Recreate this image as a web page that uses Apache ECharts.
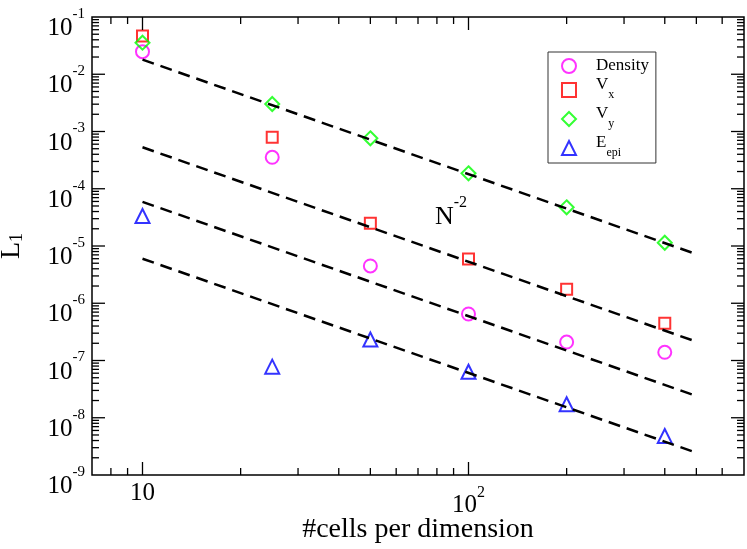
<!DOCTYPE html>
<html lang="en">
<head>
<meta charset="UTF-8">
<title>L1 convergence</title>
<script src="https://cdn.jsdelivr.net/npm/echarts@6/dist/echarts.min.js"></script>
<style>
    html, body {margin: 0; padding: 0; background: #fff;}
    #main {width: 747px; height: 549px;}
</style>
</head>
<body>
<div id="main"></div>
<script>
    // values
    var cells = [10, 25, 50, 100, 200, 400];
    var density = [2.48e-2, 3.54e-4, 4.48e-6, 6.49e-7, 2.10e-7, 1.39e-7];
    var vx = [4.66e-2, 7.92e-4, 2.49e-5, 5.93e-6, 1.75e-6, 4.47e-7];
    var vy = [3.56e-2, 3.02e-3, 7.60e-4, 1.86e-4, 4.74e-5, 1.14e-5];
    var eEpi = [3.34e-5, 7.80e-8, 2.33e-7, 6.37e-8, 1.72e-8, 4.80e-9];

    // N^-2 guide lines, value at each end
    var guideX = [10, 500];
    var guideStart = [1.8e-2, 5.3e-4, 5.9e-5, 6.0e-6];
    var guideEnd = [7.2e-6, 2.13e-7, 2.4e-8, 2.45e-9];

    var xMin = 7, xMax = 700, yMin = 1e-9, yMax = 1e-1;
    var serif = 'Liberation Serif';

    // log ticks 1..9 per decade, strictly inside the range
    function decadeTicks(lo, hi) {
        var out = [];
        for (var e = Math.floor(Math.log10(lo)); e <= Math.ceil(Math.log10(hi)); e++) {
            for (var m = 1; m <= 9; m++) {
                var v = m * Math.pow(10, e);
                if (v > lo * 1.0001 && v < hi * 0.9999) out.push({v: v, major: m === 1 ? 1 : 0});
            }
        }
        return out;
    }
    var xTicks = decadeTicks(xMin, xMax);
    var yTicks = decadeTicks(yMin, yMax);

    function expOf(v) {
        var e = Math.log10(v);
        return Math.abs(e - Math.round(e)) < 1e-6 ? Math.round(e) : null;
    }

    function pairs(ys) {
        return cells.map(function (x, i) { return [x, ys[i]]; });
    }

    var tickStyle = {stroke: '#000', lineWidth: 1.3};

    function xTickItem(params, api) {
        var px = api.coord([api.value(0), yMin])[0];
        var cs = params.coordSys;
        var len = api.value(2) ? 13 : 7;
        var b = cs.y + cs.height;
        return {type: 'group', children: [
            {type: 'line', shape: {x1: px, y1: b, x2: px, y2: b - len}, style: tickStyle},
            {type: 'line', shape: {x1: px, y1: cs.y, x2: px, y2: cs.y + len}, style: tickStyle}
        ]};
    }

    function yTickItem(params, api) {
        var py = api.coord([xMin, api.value(1)])[1];
        var cs = params.coordSys;
        var len = api.value(2) ? 13 : 7;
        var r = cs.x + cs.width;
        return {type: 'group', children: [
            {type: 'line', shape: {x1: cs.x, y1: py, x2: cs.x + len, y2: py}, style: tickStyle},
            {type: 'line', shape: {x1: r, y1: py, x2: r - len, y2: py}, style: tickStyle}
        ]};
    }

    var markerDefs = [
        {name: 'Density', data: density, symbol: 'circle', size: 13, color: '#ff00ff'},
        {name: 'Vx', data: vx, symbol: 'rect', size: 11, color: '#ff0000'},
        {name: 'Vy', data: vy, symbol: 'diamond', size: 14, color: '#00ff00'},
        {name: 'Eepi', data: eEpi, symbol: 'triangle', size: 14, color: '#0000ff'}
    ];
    var legendText = {
        'Density': '{d|Density}',
        'Vx': '{m|V}{s|x}',
        'Vy': '{m|V}{s|y}',
        'Eepi': '{m|E}{s|epi}'
    };

    var series = [];
    for (var g = 0; g < guideStart.length; g++) {
        series.push({
            type: 'line',
            silent: true,
            showSymbol: false,
            data: [[guideX[0], guideStart[g]], [guideX[1], guideEnd[g]]],
            lineStyle: {color: '#000', width: 2.5, type: [12, 7]},
            z: 3
        });
    }
    markerDefs.forEach(function (d) {
        series.push({
            name: d.name,
            type: 'scatter',
            symbol: d.symbol,
            symbolSize: d.size,
            data: pairs(d.data),
            itemStyle: {color: 'transparent', borderColor: d.color, borderWidth: 2},
            z: 2
        });
    });
    series.push({
        type: 'custom',
        silent: true,
        renderItem: xTickItem,
        data: xTicks.map(function (t) { return [t.v, yMin, t.major]; }),
        z: 5
    });
    series.push({
        type: 'custom',
        silent: true,
        renderItem: yTickItem,
        data: yTicks.map(function (t) { return [xMin, t.v, t.major]; }),
        z: 5
    });

    var myChart = echarts.init(document.getElementById('main'));
    var option = {
        animation: false,
        backgroundColor: '#fff',
        grid: {
            left: 92, right: 3, top: 17, bottom: 74,
            outerBoundsMode: 'none',
            show: true, borderColor: '#000', borderWidth: 1.5,
            backgroundColor: 'transparent'
        },
        legend: {
            data: ['Density', 'Vx', 'Vy', 'Eepi'],
            orient: 'vertical',
            left: 548, top: 52,
            itemWidth: 14, itemHeight: 14, itemGap: 2,
            padding: [5.5, 7, 1.5, 13],
            borderColor: '#333', borderWidth: 1,
            selectedMode: false,
            formatter: function (name) { return legendText[name]; },
            textStyle: {
                fontFamily: serif, color: '#000',
                rich: {
                    d: {fontFamily: serif, fontSize: 17, lineHeight: 27, padding: [0, 0, 0, 15], color: '#000'},
                    m: {fontFamily: serif, fontSize: 17, lineHeight: 27, padding: [0, 0, 0, 15], verticalAlign: 'top', color: '#000'},
                    s: {fontFamily: serif, fontSize: 12, lineHeight: 12, padding: [0, 0, 2.5, 0], verticalAlign: 'bottom', color: '#000'}
                }
            }
        },
        graphic: [{
            type: 'text',
            left: 435, top: 195,
            style: {
                text: '{n|N}{s|-2}',
                fill: '#000',
                rich: {
                    n: {fontFamily: serif, fontSize: 26, lineHeight: 35, padding: [9, 0, 0, 0], verticalAlign: 'top'},
                    s: {fontFamily: serif, fontSize: 16, lineHeight: 16, verticalAlign: 'top'}
                }
            }
        }],
        xAxis: {
            type: 'log', logBase: 10, min: xMin, max: xMax,
            name: '#cells per dimension',
            nameLocation: 'middle', nameGap: 41,
            nameMoveOverlap: false,
            nameTextStyle: {fontFamily: serif, fontSize: 28, color: '#000'},
            axisLine: {show: false},
            axisTick: {show: false},
            splitLine: {show: false},
            minorTick: {show: false},
            axisLabel: {
                margin: 6,
                showMinLabel: true, showMaxLabel: true,
                formatter: function (v) {
                    var e = expOf(v);
                    if (e === null) return '';
                    return e === 1 ? '{p|10}' : '{b|10}{s|' + e + '}';
                },
                rich: {
                    p: {fontFamily: serif, fontSize: 25, lineHeight: 25, color: '#000'},
                    b: {fontFamily: serif, fontSize: 25, lineHeight: 25, padding: [11.5, 0, 0, 0], verticalAlign: 'top', color: '#000'},
                    s: {fontFamily: serif, fontSize: 16, lineHeight: 15, padding: [4, 0, 0, 0], verticalAlign: 'top', color: '#000'}
                }
            }
        },
        yAxis: {
            type: 'log', logBase: 10, min: yMin, max: yMax,
            splitNumber: 8,
            name: '{m|L}{s|1}',
            nameLocation: 'middle', nameGap: 66, nameRotate: 90,
            nameMoveOverlap: false,
            nameTextStyle: {
                color: '#000',
                rich: {
                    m: {fontFamily: serif, fontSize: 28, lineHeight: 28, verticalAlign: 'top'},
                    s: {fontFamily: serif, fontSize: 18, lineHeight: 18, padding: [18, 0, 0, 0], verticalAlign: 'bottom'}
                }
            },
            axisLine: {show: false},
            axisTick: {show: false},
            splitLine: {show: false},
            minorTick: {show: false},
            axisLabel: {
                margin: 7,
                showMinLabel: true, showMaxLabel: true,
                formatter: function (v) {
                    var e = expOf(v);
                    if (e === null) return '';
                    return '{b|10}{s|' + e + '}';
                },
                rich: {
                    b: {fontFamily: serif, fontSize: 25, lineHeight: 24, padding: [11, 0, 0, 0], verticalAlign: 'top', color: '#000'},
                    s: {fontFamily: serif, fontSize: 15, lineHeight: 15, padding: [1.5, 0, 0, 0], verticalAlign: 'top', color: '#000'}
                }
            }
        },
        series: series
    };
    myChart.setOption(option);
</script>
</body>
</html>
